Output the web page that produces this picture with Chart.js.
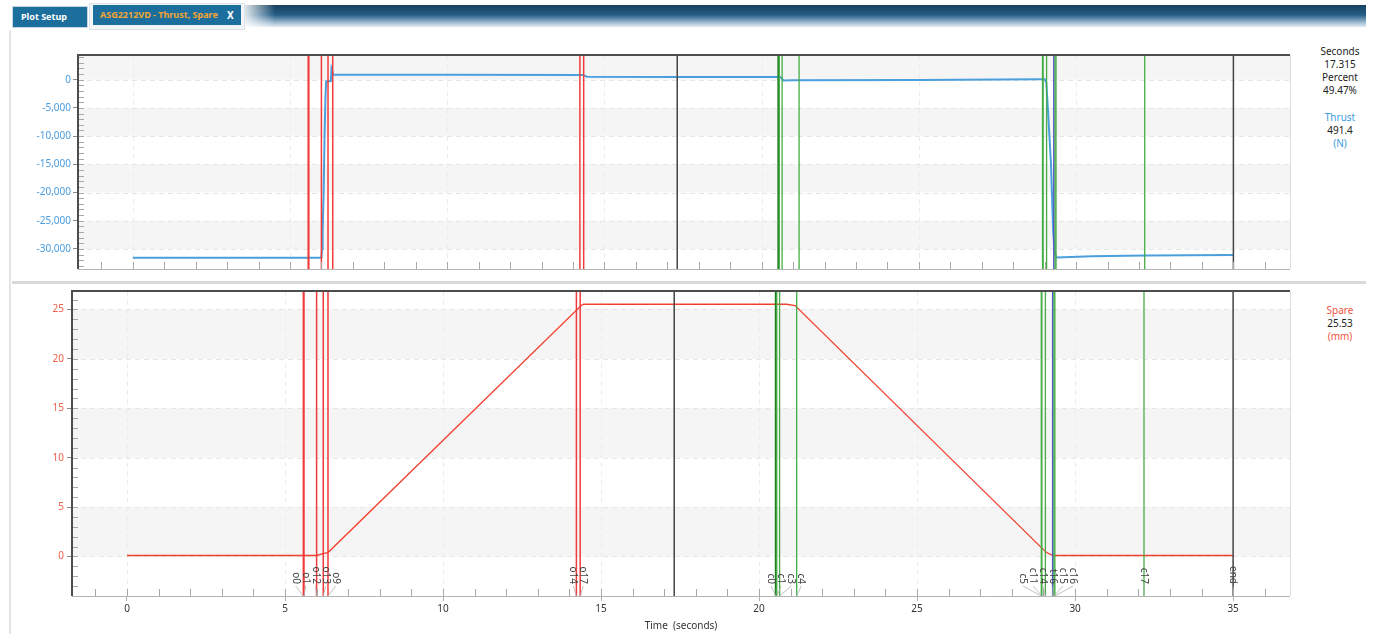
<!DOCTYPE html>
<html>
<head>
<meta charset="utf-8">
<script src="https://cdn.jsdelivr.net/npm/chart.js@4.4.1/dist/chart.umd.min.js"></script>
<style>
  body { margin: 0; width: 1375px; height: 634px; background: #fff; overflow: hidden; position: relative;
         font-family: "Noto Sans", "Open Sans", sans-serif; }
  #hdr { position: absolute; left: 245px; top: 5px; width: 1121px; height: 22px;
         background: linear-gradient(to bottom, #17415f 0%, #245d86 45%, #9fbcd2 80%, #e4ecf2 100%); }
  #hdrfade { position: absolute; left: 245px; top: 5px; width: 30px; height: 22px;
         background: linear-gradient(to right, rgba(255,255,255,0.85), rgba(255,255,255,0)); }
  .tab { position: absolute; box-sizing: border-box; font-size: 9px; font-weight: bold; white-space: nowrap; }
  #t1 { left: 12px; top: 6px; width: 76px; height: 22px; background: #1c6f9c; border: 1px solid #cbd5dc;
        color: #fff; line-height: 20px; padding-left: 8px; }
  #t2o { position: absolute; left: 89px; top: 3px; width: 156px; height: 27px; background: #f3f5f7;
         border: 1px solid #dde3e8; box-sizing: border-box; }
  #t2 { left: 93px; top: 5px; width: 148px; height: 20px; background: #1c6f9c; color: #f2a533;
        line-height: 20px; padding-left: 7px; }
  #t2 span { position: absolute; left: 134px; top: 0; color: #fff; font-size: 10px; }
  #leftline { position: absolute; left: 9px; top: 30px; width: 2px; height: 604px; background: #e4e4e4; }
  #sep { position: absolute; left: 12px; top: 281px; width: 1354px; height: 3px; background: #d9d9d9; }
  .readout { position: absolute; left: 1300px; width: 80px; text-align: center; font-size: 10px;
             line-height: 13px; color: #222; }
  .blue { color: #3d9be0; }
  .red { color: #f0533f; }
  canvas { position: absolute; left: 0; }
</style>
</head>
<body>
<div id="hdr"></div><div id="hdrfade"></div>
<div class="tab" id="t1">Plot Setup</div>
<div id="t2o"></div>
<div class="tab" id="t2">ASG2212VD - Thrust, Spare<span>X</span></div>
<div id="leftline"></div>
<div id="sep"></div>

<div class="readout" style="top:45px">Seconds<br>17.315<br>Percent<br>49.47%</div>
<div class="readout" style="top:111px"><span class="blue">Thrust</span><br>491.4<br><span class="blue">(N)</span></div>
<div class="readout" style="top:304px"><span class="red">Spare</span><br>25.53<br><span class="red">(mm)</span></div>

<canvas id="thrust" width="1300" height="240" style="top:40px"></canvas>
<canvas id="spare" width="1300" height="354" style="top:280px"></canvas>

<script>
// time axis (seconds)
const X_MIN = -1.74, X_MAX = 36.8
const X_TICKS = [0, 5, 10, 15, 20, 25, 30, 35]
const CURSOR_T = 17.315

// Thrust (N) vs time
const THRUST_T = [0, 5.6, 6.0, 6.02, 6.04, 6.07, 6.1, 6.13, 6.15, 6.3, 6.32, 6.37, 10.0, 14.3, 14.45, 17.3, 20.6, 20.7, 21.0, 25.0, 28.9, 29.0, 29.05, 29.1, 29.2, 29.27, 29.32, 29.38, 30.5, 32.2, 35.0]
const THRUST_N = [-31550, -31550, -31550, -30000, -27000, -20000, -10000, -3000, -300, -250, 1900, 900, 880, 850, 520, 491, 480, -150, -100, -40, 60, 60, -500, -5000, -15000, -27000, -30800, -31500, -31300, -31150, -31100]
const THRUST_TICKS = [-30000, -25000, -20000, -15000, -10000, -5000, 0]

// Spare (mm) vs time
const SPARE_T = [0, 6.0, 6.2, 6.36, 14.39, 14.45, 20.87, 21.14, 28.9, 29.1, 29.3, 35.0]
const SPARE_MM = [0.1, 0.1, 0.3, 0.4, 25.45, 25.53, 25.53, 25.4, 1.0, 0.4, 0.1, 0.1]
const SPARE_TICKS = [0, 5, 10, 15, 20, 25]

// event markers
const MARKER_NAMES = ['o0', 'o1', 'o12', 'o13', 'o9', 'o14', 'o17', 'c0', 'c1', 'c3', 'c4', 'c5', 'c11', 'c14', 't16', 'c15', 'c16', 'c17', 'end']
const MARKER_TIMES = [5.58, 5.60, 6.00, 6.21, 6.36, 14.22, 14.34, 20.53, 20.56, 20.65, 21.19, 28.93, 28.95, 29.06, 29.29, 29.33, 29.36, 32.18, 35.0]

// axis ranges / steps
const THRUST_RANGE = [-33560, 4380], THRUST_STEP = 5000, THRUST_MINOR = 1000
const SPARE_RANGE = [-4, 26.87], SPARE_STEP = 5, SPARE_MINOR = 1

Chart.defaults.font.family = '"Noto Sans", "Open Sans", sans-serif'
Chart.defaults.font.size = 10

function markerStyle(name) {
  if (name === 'end') return ['#444', 1.5]
  if (name === 'c0') return ['#1f7f1f', 2]
  if (name[0] === 'o') return ['#f23a3a', 1.5]
  if (name[0] === 't') return ['#5656cc', 1.5]
  return ['#45ad45', 1.3]
}

function vline(ctx, px, y0, y1) {
  ctx.beginPath(); ctx.moveTo(px, y0); ctx.lineTo(px, y1); ctx.stroke()
}

function fixedTicks(list) {
  return s => { s.ticks = list.map(v => ({ value: v })) }
}

function decor(opts) {
  return {
    id: 'decor',
    beforeDatasetsDraw(chart) {
      const { ctx, chartArea: a } = chart
      const x = chart.scales.x, y = chart.scales.y
      const step = opts.step
      ctx.save()
      // alternating bands
      ctx.fillStyle = '#f5f5f5'
      for (let v = Math.floor(y.min / step) * step; v < y.max; v += step) {
        if (Math.round(v / step) % 2 === 0) {
          const top = y.getPixelForValue(Math.min(v + step, y.max))
          const bot = y.getPixelForValue(Math.max(v, y.min))
          ctx.fillRect(a.left, top, a.right - a.left, bot - top)
        }
      }
      // dashed grid
      ctx.strokeStyle = '#e6e6e6'
      ctx.lineWidth = 1
      ctx.setLineDash([5, 4])
      opts.ticks.forEach(v => {
        const py = Math.round(y.getPixelForValue(v)) + 0.5
        ctx.beginPath(); ctx.moveTo(a.left, py); ctx.lineTo(a.right, py); ctx.stroke()
      })
      ctx.strokeStyle = '#ececec'
      X_TICKS.forEach(t => vline(ctx, Math.round(x.getPixelForValue(t)) + 0.5, a.top, a.bottom))
      ctx.restore()
    },
    afterDatasetsDraw(chart) {
      const { ctx, chartArea: a } = chart
      const x = chart.scales.x, y = chart.scales.y
      ctx.save()
      // cursor + markers
      ctx.strokeStyle = '#444'; ctx.lineWidth = 1.5
      vline(ctx, x.getPixelForValue(CURSOR_T), a.top, a.bottom)
      MARKER_NAMES.forEach((n, i) => {
        const [c, w] = markerStyle(n)
        ctx.strokeStyle = c; ctx.lineWidth = w
        vline(ctx, x.getPixelForValue(MARKER_TIMES[i]), a.top, a.bottom)
      })
      // minor ticks (inside)
      ctx.strokeStyle = '#a8a8a8'; ctx.lineWidth = 1
      for (let v = Math.ceil(y.min / opts.minor) * opts.minor; v <= y.max; v += opts.minor) {
        const py = Math.round(y.getPixelForValue(v)) + 0.5
        ctx.beginPath(); ctx.moveTo(a.left, py); ctx.lineTo(a.left + 6, py); ctx.stroke()
      }
      for (let t = Math.ceil(X_MIN); t <= X_MAX; t++) {
        vline(ctx, Math.round(x.getPixelForValue(t)) + 0.5, a.bottom, a.bottom - 7)
      }
      // frame
      ctx.strokeStyle = '#dcdcdc'; ctx.lineWidth = 1
      vline(ctx, a.right + 0.5, a.top, a.bottom)
      ctx.strokeStyle = '#b4b4b4'
      ctx.beginPath(); ctx.moveTo(a.left, a.bottom + 0.5); ctx.lineTo(a.right, a.bottom + 0.5); ctx.stroke()
      ctx.strokeStyle = '#4d4d4d'; ctx.lineWidth = 2
      ctx.beginPath(); ctx.moveTo(a.left, a.bottom); ctx.lineTo(a.left, a.top); ctx.lineTo(a.right, a.top); ctx.stroke()

      if (opts.labels) drawMarkerLabels(chart)
      ctx.restore()
    }
  }
}

// spread overlapping marker labels, draw them rotated with leader lines
function drawMarkerLabels(chart) {
  const { ctx, chartArea: a } = chart
  const x = chart.scales.x
  const gap = 10
  let groups = MARKER_NAMES.map((n, i) => ({ names: [n], px: [x.getPixelForValue(MARKER_TIMES[i])] }))
  const place = g => {
    const mid = (g.px[0] + g.px[g.px.length - 1]) / 2
    g.lx = g.px.map((_, k) => mid + (k - (g.px.length - 1) / 2) * gap)
  }
  groups.forEach(place)
  let merged = true
  while (merged) {
    merged = false
    for (let i = 0; i < groups.length - 1; i++) {
      const g = groups[i], h = groups[i + 1]
      if (h.lx[0] - g.lx[g.lx.length - 1] < gap) {
        const m = { names: g.names.concat(h.names), px: g.px.concat(h.px) }
        place(m)
        groups.splice(i, 2, m)
        merged = true
        break
      }
    }
  }
  const textBottom = a.bottom - 12
  ctx.font = '10px "Noto Sans", "Open Sans", sans-serif'
  groups.forEach(g => {
    g.names.forEach((n, k) => {
      ctx.strokeStyle = '#b0b0b0'; ctx.lineWidth = 0.8
      ctx.beginPath(); ctx.moveTo(g.lx[k], textBottom + 2); ctx.lineTo(g.px[k], a.bottom); ctx.stroke()
      ctx.save()
      ctx.translate(g.lx[k], textBottom)
      ctx.rotate(Math.PI / 2)
      ctx.fillStyle = '#444'
      ctx.textAlign = 'right'
      ctx.textBaseline = 'middle'
      ctx.fillText(n, 0, 0)
      ctx.restore()
    })
  })
}

const common = {
  responsive: false,
  animation: false,
  plugins: { legend: { display: false }, tooltip: { enabled: false } },
  elements: { point: { radius: 0 }, line: { tension: 0 } }
}

new Chart(document.getElementById('thrust'), {
  type: 'line',
  data: {
    datasets: [{
      data: THRUST_T.map((t, i) => ({ x: t, y: THRUST_N[i] })),
      borderColor: '#4a9fdc',
      borderWidth: 2
    }]
  },
  options: {
    ...common,
    layout: { padding: { top: 15, bottom: 11, left: 0, right: 10 } },
    scales: {
      x: { type: 'linear', min: X_MIN, max: X_MAX, display: false },
      y: {
        min: THRUST_RANGE[0], max: THRUST_RANGE[1],
        afterFit: s => { s.width = 78 },
        afterBuildTicks: fixedTicks(THRUST_TICKS),
        ticks: { color: '#4a9de0', padding: 2 },
        grid: { drawOnChartArea: false, tickLength: 5, tickColor: '#8a8a8a' },
        border: { display: false }
      }
    }
  },
  plugins: [decor({ step: THRUST_STEP, minor: THRUST_MINOR, ticks: THRUST_TICKS, labels: false })]
})

new Chart(document.getElementById('spare'), {
  type: 'line',
  data: {
    datasets: [{
      data: SPARE_T.map((t, i) => ({ x: t, y: SPARE_MM[i] })),
      borderColor: '#f2402e',
      borderWidth: 1.3
    }]
  },
  options: {
    ...common,
    layout: { padding: { top: 11, bottom: 0, left: 0, right: 10 } },
    scales: {
      x: {
        type: 'linear', min: X_MIN, max: X_MAX,
        afterFit: s => { s.height = 38 },
        afterBuildTicks: fixedTicks(X_TICKS),
        ticks: { color: '#333', padding: 2, maxRotation: 0 },
        grid: { drawOnChartArea: false, tickLength: 5, tickColor: '#b0b0b0' },
        border: { display: false },
        title: { display: true, text: 'Time  (seconds)', color: '#333', font: { size: 10 }, padding: { top: 0, bottom: 2 } }
      },
      y: {
        min: SPARE_RANGE[0], max: SPARE_RANGE[1],
        afterFit: s => { s.width = 72 },
        afterBuildTicks: fixedTicks(SPARE_TICKS),
        ticks: { color: '#f0604c', padding: 3 },
        grid: { drawOnChartArea: false, tickLength: 5, tickColor: '#8a8a8a' },
        border: { display: false }
      }
    }
  },
  plugins: [decor({ step: SPARE_STEP, minor: SPARE_MINOR, ticks: SPARE_TICKS, labels: true })]
})
</script>
</body>
</html>
